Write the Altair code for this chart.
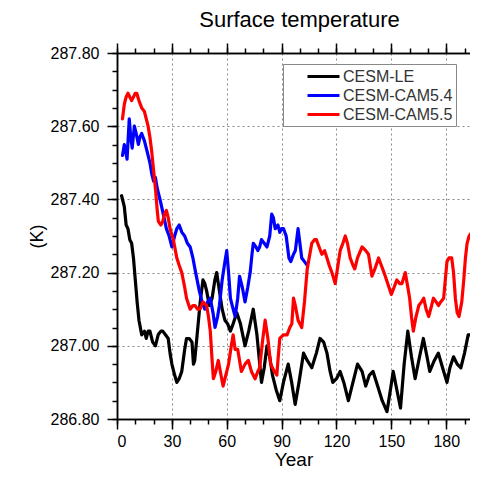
import altair as alt
import pandas as pd

series_names = ["CESM-LE", "CESM-CAM5.4", "CESM-CAM5.5"]
series_colors = ["#000000", "#0000ff", "#ff0000"]

le_years = [2.5, 4, 5, 6, 7, 8, 9, 10, 11, 12, 13.5, 15, 16, 17, 18, 19.5, 21, 22.5, 24, 25, 26.5, 28, 29, 30,
            31.5, 32.7, 34, 35.4, 37, 38, 39.5, 41, 41.8, 42.5, 44, 45.5, 47, 48, 49, 50.5, 52, 53.5, 54.5, 56,
            57.5, 59, 60.5, 62, 63.5, 65.5, 67.5, 70, 72, 74.5, 76.5, 79, 80.5, 82, 83.5, 85, 87, 89, 91, 93.6,
            95.5, 97.4, 99.5, 102, 104, 106.5, 109, 111, 113, 114.8, 116.5, 118, 120, 122, 124, 126.5, 129, 131.5,
            134, 136, 138, 140, 142.5, 145, 147.6, 149.5, 151, 153, 155, 157, 159, 161, 163, 165, 167.5, 169.5,
            171, 173.5, 175.7, 178, 180.4, 182, 184, 186, 188, 190, 192, 194, 196, 197.5]
le_vals = [287.41, 287.38, 287.33, 287.32, 287.29, 287.28, 287.24, 287.18, 287.12, 287.07, 287.03, 287.04, 287.02,
           287.04, 287.04, 287.01, 287.00, 287.03, 287.04, 287.04, 287.03, 287.02, 286.98, 286.95, 286.92, 286.90,
           286.91, 286.93, 286.99, 287.02, 287.02, 287.01, 286.95, 286.96, 287.04, 287.12, 287.18, 287.17, 287.15,
           287.11, 287.13, 287.18, 287.20, 287.15, 287.10, 287.07, 287.06, 287.04, 287.06, 287.09, 287.06, 287.00,
           287.04, 287.10, 287.03, 286.90, 286.94, 287.00, 286.97, 286.92, 286.88, 286.85, 286.90, 286.95, 286.90,
           286.84, 286.90, 286.98, 286.96, 286.94, 286.98, 287.02, 287.01, 286.98, 286.93, 286.90, 286.91, 286.93,
           286.90, 286.85, 286.90, 286.95, 286.93, 286.89, 286.92, 286.93, 286.89, 286.85, 286.82, 286.88, 286.93,
           286.88, 286.83, 286.95, 287.04, 286.97, 286.91, 286.96, 287.02, 286.97, 286.93, 286.96, 286.98, 286.94,
           286.90, 286.94, 286.97, 286.95, 286.94, 286.98, 287.03, 287.03, 287.01, 287.00]

c54_years = [3, 4, 4.8, 5.5, 6.7, 7.5, 8.3, 9.5, 10.5, 11.7, 12.5, 13.5, 15, 16, 17, 18, 19, 20, 21, 22, 23.5, 25.3,
             27, 28.5, 30, 31.5, 32.7, 34, 35.5, 37, 38.5, 40, 41.5, 43, 45, 46.5, 48, 49.5, 51, 52.5, 53.6, 55, 56,
             57.5, 59, 60, 61, 62, 63, 64.6, 66, 67, 68.5, 70, 71.5, 72.8, 73.8, 74.5, 76, 77, 78, 79, 80.5, 82, 83.5,
             84.6, 85.5, 86.5, 88, 89, 90, 91, 92.5, 94, 95, 96.5, 97.5, 99, 100, 101, 102.5, 104]
c54_vals = [287.52, 287.55, 287.53, 287.51, 287.62, 287.57, 287.54, 287.60, 287.58, 287.55, 287.57, 287.58, 287.56,
            287.54, 287.52, 287.50, 287.47, 287.45, 287.46, 287.43, 287.40, 287.36, 287.32, 287.30, 287.27, 287.30,
            287.32, 287.33, 287.31, 287.30, 287.28, 287.27, 287.24, 287.20, 287.15, 287.12, 287.10, 287.12, 287.13,
            287.09, 287.05, 287.08, 287.11, 287.18, 287.23, 287.26, 287.20, 287.13, 287.11, 287.08, 287.13, 287.19,
            287.16, 287.12, 287.16, 287.20, 287.25, 287.28, 287.27, 287.26, 287.27, 287.29, 287.28, 287.27, 287.30,
            287.36, 287.35, 287.32, 287.33, 287.31, 287.32, 287.32, 287.30, 287.24, 287.23, 287.25, 287.26, 287.32,
            287.28, 287.24, 287.23, 287.22]

c55_years = [3, 4, 5, 6, 7, 8, 9, 10, 10.8, 12, 13.5, 15, 16, 17, 18, 19, 20, 21, 22, 22.6, 24, 25, 26, 27, 28, 29,
             30.8, 32.7, 34, 35.4, 37, 38, 40, 41.5, 42.7, 44, 45.4, 47, 49, 50, 51, 52, 52.7, 54, 55.4, 56.5, 58,
             59.5, 61, 62.5, 63.5, 64.6, 66, 68, 70, 71.8, 73.5, 75.5, 77, 78, 79.5, 81, 82.5, 84, 86, 87.4, 88, 89,
             91, 93, 94.5, 95.6, 96.5, 97.5, 99, 101, 102.5, 104, 104.7, 106.5, 108, 109, 110.5, 112, 113.5, 114.8,
             116, 117.5, 119.3, 120.5, 122, 123.5, 124.8, 126, 127.5, 129, 130, 131.5, 134, 136, 137.5, 139.4, 141,
             143, 144.5, 146, 148, 150, 151.5, 153, 154.5, 155.8, 157.6, 159, 160, 161, 162, 163.5, 165, 166.5,
             167.7, 169, 170.4, 172, 173, 174.5, 175.8, 177, 178.6, 179.5, 180.4, 181.5, 183, 184, 185, 186, 187,
             188.5, 189.6, 190.5, 191.4, 192.5, 194, 195.5, 197]
c55_vals = [287.62, 287.66, 287.68, 287.69, 287.68, 287.67, 287.68, 287.69, 287.69, 287.67, 287.65, 287.64, 287.62,
            287.60, 287.57, 287.53, 287.48, 287.43, 287.37, 287.34, 287.33, 287.34, 287.36, 287.37, 287.35, 287.32,
            287.29, 287.24, 287.22, 287.20, 287.16, 287.13, 287.10, 287.11, 287.11, 287.10, 287.10, 287.12, 287.11,
            287.08, 287.04, 286.96, 286.91, 286.93, 286.96, 286.93, 286.89, 286.92, 286.95, 287.00, 287.03, 286.99,
            286.99, 286.93, 286.95, 286.96, 286.93, 286.91, 286.93, 286.94, 287.01, 287.07, 287.02, 286.95, 286.93,
            286.92, 286.96, 287.02, 287.03, 287.03, 287.05, 287.06, 287.13, 287.11, 287.07, 287.05, 287.12, 287.21,
            287.23, 287.28, 287.29, 287.29, 287.27, 287.25, 287.26, 287.24, 287.22, 287.20, 287.17, 287.21, 287.26,
            287.28, 287.30, 287.28, 287.24, 287.22, 287.21, 287.24, 287.27, 287.26, 287.25, 287.19, 287.21, 287.24,
            287.22, 287.20, 287.17, 287.14, 287.16, 287.18, 287.17, 287.17, 287.20, 287.16, 287.13, 287.08, 287.04,
            287.08, 287.11, 287.12, 287.13, 287.10, 287.08, 287.11, 287.13, 287.12, 287.11, 287.12, 287.13, 287.18,
            287.23, 287.24, 287.24, 287.20, 287.13, 287.09, 287.08, 287.12, 287.18, 287.24, 287.28, 287.30, 287.31,
            287.32, 287.34]

x_major = [0, 30, 60, 90, 120, 150, 180]
x_minor = [0, 10, 20, 30, 40, 50, 60, 70, 80, 90, 100, 110, 120, 130, 140, 150, 160, 170, 180, 190]
y_major = [286.8, 287.0, 287.2, 287.4, 287.6, 287.8]
y_minor = [286.8, 286.85, 286.9, 286.95, 287.0, 287.05, 287.1, 287.15, 287.2, 287.25, 287.3, 287.35,
           287.4, 287.45, 287.5, 287.55, 287.6, 287.65, 287.7, 287.75, 287.8]

rows = []
for name, ys, vs in [(series_names[0], le_years, le_vals),
                     (series_names[1], c54_years, c54_vals),
                     (series_names[2], c55_years, c55_vals)]:
    for yy, vv in zip(ys, vs):
        rows.append({"series": name, "year": yy, "value": vv})
df = pd.DataFrame(rows)

FONT = "Liberation Sans"
xscale = alt.Scale(domain=[0, 193], nice=False, zero=False)
yscale = alt.Scale(domain=[286.8, 287.8], nice=False, zero=False)

common_axis = dict(domainColor="black", tickColor="black", domainWidth=1.5, tickWidth=1.5,
                   labelColor="black", labelFont=FONT, titleFont=FONT, titleColor="black",
                   titleFontWeight="normal")

lines = alt.Chart(df).mark_line(strokeWidth=3.2, clip=True, strokeJoin="round", strokeCap="round").encode(
    x=alt.X("year:Q", scale=xscale,
            axis=alt.Axis(orient="bottom", values=x_major, format="d", title="Year", titleFontSize=19,
                          titlePadding=1, labelFontSize=16, labelPadding=4, tickSize=10,
                          grid=True, gridDash=[2, 3], gridColor="#888888", gridWidth=1, **common_axis)),
    y=alt.Y("value:Q", scale=yscale,
            axis=alt.Axis(orient="left", values=y_major, format=".2f", title="(K)", titleFontSize=18,
                          titlePadding=4, labelFontSize=16, labelPadding=8, tickSize=10,
                          grid=True, gridDash=[2, 3], gridColor="#888888", gridWidth=1, **common_axis)),
    color=alt.Color("series:N", scale=alt.Scale(domain=series_names, range=series_colors),
                    legend=alt.Legend(title=None, orient="none", legendX=166, legendY=11,
                                      symbolType="M-2,0H2", symbolSize=256, symbolStrokeWidth=3,
                                      labelFont=FONT, labelFontSize=16, labelColor="#333333",
                                      labelOffset=10, symbolOffset=28, padding=3, rowPadding=1,
                                      strokeColor="#888888", fillColor="white")),
)

def axis_layer(xvals, xorient, xsize, yvals, ysize):
    ax = alt.Axis(orient=xorient, values=xvals, labels=False, title=None, tickSize=xsize, grid=False,
                  **common_axis) if xvals else None
    ay = alt.Axis(orient="left", values=yvals, labels=False, title=None, tickSize=ysize, grid=False,
                  **common_axis) if yvals else None
    return alt.Chart(df).mark_point(opacity=0, clip=True).encode(
        x=alt.X("year:Q", scale=xscale, axis=ax),
        y=alt.Y("value:Q", scale=yscale, axis=ay),
    )

top_major = axis_layer(x_major, "top", 10, None, 0)
top_minor = axis_layer(x_minor, "top", 5, None, 0)
bottom_minor = axis_layer(x_minor, "bottom", 5, None, 0)
left_minor = axis_layer(None, "bottom", 0, y_minor, 5)

chart = alt.layer(lines, top_major, top_minor, bottom_minor, left_minor).resolve_axis(
    x="independent", y="independent"
).properties(
    width=462, height=461,
    autosize=alt.AutoSizeParams(type="fit", contains="padding"),
    title=alt.TitleParams("Surface temperature", font=FONT, fontSize=22, fontWeight="normal",
                          color="black", anchor="middle", offset=10, dx=6),
    padding={"left": 20, "top": 1, "right": 0, "bottom": 0},
).configure_view(stroke=None).configure(background="white")

chart.save("out.html", embed_options={"renderer": "svg", "actions": False})
